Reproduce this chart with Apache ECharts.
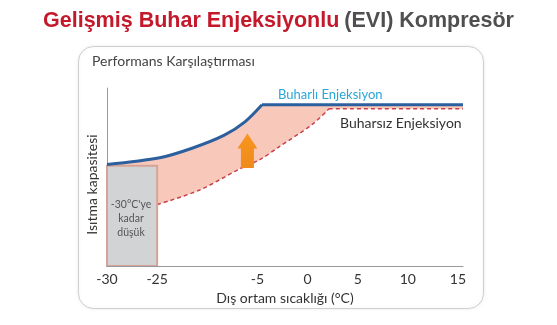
<!DOCTYPE html>
<html>
<head>
<meta charset="utf-8">
<script src="https://cdn.jsdelivr.net/npm/echarts@6.0.0/dist/echarts.min.js"></script>
<style>
html, body { margin: 0; padding: 0; background: #fff; }
#main { width: 557px; height: 325px; }
</style>
</head>
<body>
<div id="main"></div>
<script>
// x axis works in "slots": -30, -25, (gap), -5, 0, 5, 10, 15
var tickLabels = ['-30', '-25', '', '-5', '0', '5', '10', '15'];
// [slot, capacity %] - rising part, then flat part after the knee
var withInjectionRise = [[0, 57], [1.05, 60.8], [1.71, 66.3], [2.34, 73.5], [2.75, 81], [3.0913, 90.6]];
var withInjectionFlat = [[3.0913, 90.6], [7.1, 90.6]];
var withoutInjectionRise = [[1, 34.5], [1.85, 42.7], [2.64, 54.5], [3.04, 59.6], [3.43, 66.9], [4.09, 79.5], [4.4276, 88.3]];
var withoutInjectionFlat = [[4.4276, 88.3], [7.1, 88.3]];
// [x from, x to, y from, y to]
var lowLimitBox = [[0, 1, 0, 56.3]];
// [x, bottom, tip]
var gainArrow = [[2.8, 55, 74.5]];

var myChart = echarts.init(document.getElementById('main'));
var font = 'Lato, "Open Sans", sans-serif';

function fillSeries(data) {
  return {
    type: 'line', z: 1, smooth: 0.3, showSymbol: false, silent: true, data: data,
    lineStyle: { width: 0, opacity: 0 },
    areaStyle: { color: '#f8c8bb', opacity: 1 }
  };
}
function dashedSeries(data) {
  return {
    name: 'Buharsız Enjeksiyon',
    type: 'line', z: 2, smooth: 0.3, showSymbol: false, data: data,
    lineStyle: { color: '#c9404a', width: 1.5, type: [4, 3] },
    areaStyle: { color: '#fff', opacity: 1 }
  };
}
function blueSeries(data) {
  return {
    name: 'Buharlı Enjeksiyon',
    type: 'line', z: 4, smooth: 0.3, showSymbol: false, data: data,
    lineStyle: { color: '#2b5f9e', width: 3 }
  };
}

myChart.setOption({
  animation: false,
  title: {
    text: '{r|Gelişmiş Buhar Enjeksiyonlu} {g|(EVI) Kompresör}',
    left: 'center',
    top: 5,
    textStyle: {
      rich: {
        r: { color: '#c3192b', fontSize: 21.5, fontWeight: 'bold', fontFamily: 'Liberation Sans, Arial, sans-serif' },
        g: { color: '#4f4f4f', fontSize: 21.5, fontWeight: 'bold', fontFamily: 'Liberation Sans, Arial, sans-serif' }
      }
    }
  },
  graphic: [
    {
      type: 'rect', z: -10,
      shape: { x: 78.5, y: 46.5, width: 405, height: 262, r: 15 },
      style: { fill: '#fff', stroke: '#cfcfcf', lineWidth: 1, shadowBlur: 4, shadowColor: 'rgba(0,0,0,0.08)' }
    },
    {
      type: 'text', z: 100, left: 92, top: 54,
      style: { text: 'Performans Karşılaştırması', fill: '#444', font: '14px ' + font }
    },
    {
      type: 'text', z: 100, x: 278, y: 95,
      style: { text: 'Buharlı Enjeksiyon', fill: '#2aa6d6', font: '13px ' + font, verticalAlign: 'middle' }
    },
    {
      type: 'text', z: 100, x: 340, y: 123,
      style: { text: 'Buharsız Enjeksiyon', fill: '#333', font: '14px ' + font, verticalAlign: 'middle' }
    },
    {
      type: 'text', z: 100, x: 131, y: 219,
      style: { text: "-30°C'ye\nkadar\ndüşük", fill: '#555', font: '10.5px ' + font, align: 'center', verticalAlign: 'middle', lineHeight: 14 }
    }
  ],
  grid: { left: 107, right: 94, top: 88, bottom: 59 },
  xAxis: {
    type: 'value',
    min: 0,
    max: 7.1,
    interval: 1,
    z: 10,
    name: 'Dış ortam sıcaklığı (°C)',
    nameLocation: 'middle',
    nameGap: 25,
    nameTextStyle: { color: '#333', fontSize: 14, fontFamily: font },
    axisLine: { show: true, lineStyle: { color: '#999', width: 1 } },
    axisTick: { show: false },
    splitLine: { show: false },
    axisLabel: {
      color: '#333', fontSize: 14, fontFamily: font, margin: 6,
      formatter: function (v) { return Number.isInteger(v) ? tickLabels[v] : ''; }
    }
  },
  yAxis: {
    type: 'value',
    min: 0,
    max: 100,
    name: 'Isıtma kapasitesi',
    nameLocation: 'middle',
    nameGap: 8,
    nameTextStyle: { color: '#333', fontSize: 14, fontFamily: font, padding: [0, 15, 0, 0] },
    axisLine: { show: true, lineStyle: { color: '#999', width: 1 } },
    axisTick: { show: false },
    axisLabel: { show: false },
    splitLine: { show: false }
  },
  series: [
    fillSeries(withInjectionRise),
    fillSeries(withInjectionFlat),
    dashedSeries(withoutInjectionRise),
    dashedSeries(withoutInjectionFlat),
    {
      name: 'box',
      type: 'custom',
      z: 3,
      data: lowLimitBox,
      encode: { x: [0, 1], y: [2, 3] },
      renderItem: function (params, api) {
        var p0 = api.coord([api.value(0), api.value(3)]);
        var p1 = api.coord([api.value(1), api.value(2)]);
        return {
          type: 'rect',
          shape: { x: p0[0], y: p0[1], width: p1[0] - p0[0], height: p1[1] - p0[1] },
          style: { fill: '#d2d3d5', stroke: '#d6a497', lineWidth: 2 }
        };
      }
    },
    blueSeries(withInjectionRise),
    blueSeries(withInjectionFlat),
    {
      name: 'arrow',
      type: 'custom',
      z: 5,
      data: gainArrow,
      encode: { x: 0, y: [1, 2] },
      renderItem: function (params, api) {
        var b = api.coord([api.value(0), api.value(1)]);
        var t = api.coord([api.value(0), api.value(2)]);
        var headH = 15, bw = 6.5, hw = 10;
        return {
          type: 'polygon',
          shape: {
            points: [
              [b[0] - bw, b[1]], [b[0] - bw, t[1] + headH], [b[0] - hw, t[1] + headH],
              [b[0], t[1]], [b[0] + hw, t[1] + headH], [b[0] + bw, t[1] + headH], [b[0] + bw, b[1]]
            ]
          },
          style: {
            fill: new echarts.graphic.LinearGradient(0, 0, 0, 1, [
              { offset: 0, color: '#f7961f' },
              { offset: 1, color: '#f08a1a' }
            ])
          }
        };
      }
    }
  ]
});
</script>
</body>
</html>
